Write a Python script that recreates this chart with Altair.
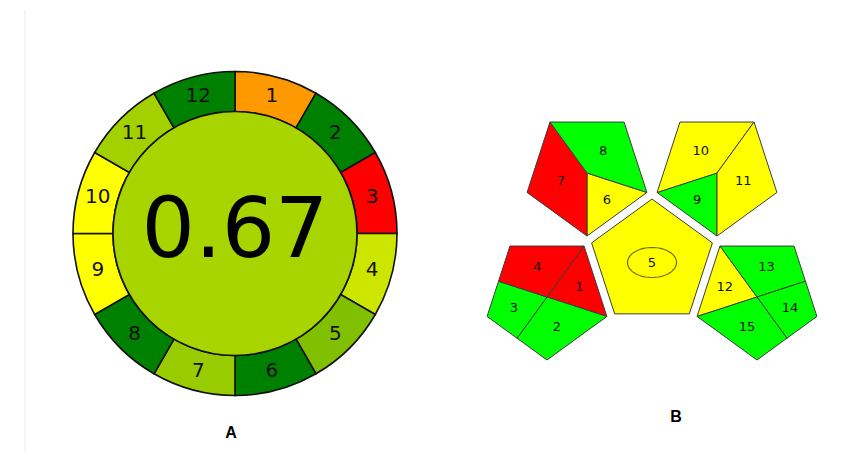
import math
import altair as alt
import pandas as pd

# ---------------- data ----------------
agree_criteria = list(range(1, 13))
agree_scores = [0.30, 1.00, 0.00, 0.60, 0.75, 1.00, 0.70, 1.00, 0.50, 0.50, 0.68, 1.00]
agree_total = 0.67

gapi_fields = list(range(1, 16))
gapi_grades = ["red", "green", "green", "red", "yellow", "yellow", "red", "green",
               "green", "yellow", "yellow", "yellow", "green", "green", "green"]

panel_labels = ["A", "B"]

# ---------------- layout (chart pixel space, page minus 8px margin) ----------------
OFF = 8
W, H = 831, 460
A_CX, A_CY = 235 - OFF, 233.5 - OFF
R_OUT, R_IN, R_LBL = 162, 122, 142

STROKE_A = "#111111"
STROKE_B = "#3c3c3c"

# ---------------- A : AGREE pictogram ----------------
agree_color = alt.Scale(domain=[0, 0.5, 1], range=["#ff0000", "#ffff00", "#008000"],
                        interpolate="rgb")

ring_df = pd.DataFrame({
    "criterion": agree_criteria,
    "score": agree_scores,
    "w": [1] * len(agree_criteria),
    "cx": [A_CX] * len(agree_criteria),
    "cy": [A_CY] * len(agree_criteria),
})
n = len(agree_criteria)
ring_df["lx"] = [A_CX + R_LBL * math.sin(math.radians((k - 0.5) * 360 / n)) for k in agree_criteria]
ring_df["ly"] = [A_CY - R_LBL * math.cos(math.radians((k - 0.5) * 360 / n)) for k in agree_criteria]
ring_df["label"] = [str(k) for k in agree_criteria]

ring = alt.Chart(ring_df).mark_arc(
    outerRadius=R_OUT, innerRadius=R_IN, stroke=STROKE_A, strokeWidth=1.6
).encode(
    x=alt.X("cx:Q", scale=None, axis=None),
    y=alt.Y("cy:Q", scale=None, axis=None),
    theta=alt.Theta("w:Q", stack=True),
    order=alt.Order("criterion:Q"),
    fill=alt.Fill("score:Q", scale=agree_color, legend=None),
)

ring_text = alt.Chart(ring_df).mark_text(
    font="DejaVu Sans", fontSize=20, color="#111111", baseline="middle", align="center"
).encode(
    x=alt.X("lx:Q", scale=None, axis=None),
    y=alt.Y("ly:Q", scale=None, axis=None),
    text="label:N",
)

center_df = pd.DataFrame({"score": [agree_total], "cx": [A_CX], "cy": [A_CY],
                          "ty": [A_CY + 23.5], "label": [f"{agree_total:.2f}"]})

# Vega circle symbol: radius = sqrt(size) / 2
center = alt.Chart(center_df).mark_circle(
    size=(2 * R_IN) ** 2, opacity=1, stroke=STROKE_A, strokeWidth=1.6
).encode(
    x=alt.X("cx:Q", scale=None, axis=None),
    y=alt.Y("cy:Q", scale=None, axis=None),
    fill=alt.Fill("score:Q", scale=agree_color, legend=None),
)

center_text = alt.Chart(center_df).mark_text(
    font="DejaVu Sans", fontSize=84, color="black", baseline="alphabetic", align="center"
).encode(
    x=alt.X("cx:Q", scale=None, axis=None),
    y=alt.Y("ty:Q", scale=None, axis=None),
    text="label:N",
)

# ---------------- B : GAPI pictogram ----------------
S36, C36 = math.sin(math.radians(36)), math.cos(math.radians(36))
S72, C72 = math.sin(math.radians(72)), math.cos(math.radians(72))


def pent_down(cx, cy, r):
    cx, cy = cx - OFF, cy - OFF
    return {
        "TL": (cx - r * S36, cy - r * C36), "TR": (cx + r * S36, cy - r * C36),
        "R": (cx + r * S72, cy + r * C72), "B": (cx, cy + r),
        "L": (cx - r * S72, cy + r * C72), "P": (cx, cy),
    }


def mid(a, b):
    return ((a[0] + b[0]) / 2, (a[1] + b[1]) / 2)


R_P = 63
p_tl = pent_down(587, 173, R_P)
p_tr = pent_down(717, 173, R_P)
p_bl = pent_down(547, 297, R_P)
p_br = pent_down(757, 297, R_P)
p_bl["mTLL"] = mid(p_bl["TL"], p_bl["L"])
p_bl["mLB"] = mid(p_bl["L"], p_bl["B"])
p_br["mTRR"] = mid(p_br["TR"], p_br["R"])
p_br["mRB"] = mid(p_br["R"], p_br["B"])

ccx, ccy, cr = 652 - OFF, 262.5 - OFF, 63.5
center_pent = [(ccx + cr * math.sin(math.radians(a)), ccy - cr * math.cos(math.radians(a)))
               for a in (0, 72, 144, 216, 288)]

regions = {
    1: [p_bl[k] for k in ("TR", "R", "P")],
    2: [p_bl[k] for k in ("P", "R", "B", "mLB")],
    3: [p_bl[k] for k in ("mTLL", "P", "mLB", "L")],
    4: [p_bl[k] for k in ("TL", "TR", "P", "mTLL")],
    5: center_pent,
    6: [p_tl[k] for k in ("P", "R", "B")],
    7: [p_tl[k] for k in ("TL", "P", "B", "L")],
    8: [p_tl[k] for k in ("TL", "TR", "R", "P")],
    9: [p_tr[k] for k in ("L", "P", "B")],
    10: [p_tr[k] for k in ("TL", "TR", "P", "L")],
    11: [p_tr[k] for k in ("TR", "R", "B", "P")],
    12: [p_br[k] for k in ("TL", "P", "L")],
    13: [p_br[k] for k in ("TL", "TR", "mTRR", "P")],
    14: [p_br[k] for k in ("P", "mTRR", "R", "mRB")],
    15: [p_br[k] for k in ("L", "P", "mRB", "B")],
}


def centroid(pts):
    a = cx = cy = 0.0
    for i in range(len(pts)):
        x0, y0 = pts[i]
        x1, y1 = pts[(i + 1) % len(pts)]
        c = x0 * y1 - x1 * y0
        a += c
        cx += (x0 + x1) * c
        cy += (y0 + y1) * c
    a *= 0.5
    return cx / (6 * a), cy / (6 * a)


features = []
lab_rows = []
for f, g in zip(gapi_fields, gapi_grades):
    pts = regions[f]
    ring_pts = [list(p) for p in pts] + [list(pts[0])]
    features.append({"type": "Feature", "properties": {"field": f, "grade": g},
                     "geometry": {"type": "Polygon", "coordinates": [ring_pts]}})
    cxy = centroid(pts) if f != 5 else (ccx, ccy)
    lab_rows.append({"x": cxy[0], "y": cxy[1], "label": str(f)})
lab_df = pd.DataFrame(lab_rows)

gapi = alt.Chart(alt.Data(values=features)).mark_geoshape(
    stroke=STROKE_B, strokeWidth=1
).encode(
    fill=alt.Fill("properties.grade:N",
                  scale=alt.Scale(domain=["green", "yellow", "red"],
                                  range=["#00ff00", "#ffff00", "#ff0000"]),
                  legend=None)
).project(type="identity", scale=1, translate=[0, 0])

ell = [[ccx + 24.5 * math.cos(t * math.pi / 36), ccy + 15 * math.sin(t * math.pi / 36)]
       for t in range(73)]
ellipse = alt.Chart(alt.Data(values=[{"type": "Feature", "properties": {},
                                       "geometry": {"type": "Polygon", "coordinates": [ell]}}])
                    ).mark_geoshape(filled=False, stroke="#6f6f00", strokeWidth=1.2
                                    ).project(type="identity", scale=1, translate=[0, 0])

gapi_text = alt.Chart(lab_df).mark_text(
    font="DejaVu Sans", fontSize=13, color="#111111", baseline="middle", align="center"
).encode(
    x=alt.X("x:Q", scale=None, axis=None),
    y=alt.Y("y:Q", scale=None, axis=None),
    text="label:N",
)

# ---------------- panel labels & frame line ----------------
plab_df = pd.DataFrame({"label": panel_labels, "x": [231 - OFF, 676 - OFF],
                        "y": [437.5 - OFF, 421.7 - OFF]})
plabels = alt.Chart(plab_df).mark_text(
    font="Liberation Sans", fontSize=16, fontWeight="bold", color="black",
    baseline="alphabetic", align="center"
).encode(
    x=alt.X("x:Q", scale=None, axis=None),
    y=alt.Y("y:Q", scale=None, axis=None),
    text="label:N",
)

frame = alt.Chart(pd.DataFrame({"a": [0]})).mark_rule(color="#eeeeee", strokeWidth=1).encode(
    x=alt.value(25 - OFF), y=alt.value(10 - OFF), y2=alt.value(453 - OFF)
)

chart = alt.layer(
    frame, ring, center, ring_text, center_text, gapi, ellipse, gapi_text, plabels
).resolve_scale(fill="independent").properties(
    width=W, height=H,
    autosize=alt.AutoSizeParams(type="none"),
    padding=0,
    background="white",
).configure_view(stroke=None)

chart.save("out.html", embed_options={"renderer": "svg", "actions": False})
